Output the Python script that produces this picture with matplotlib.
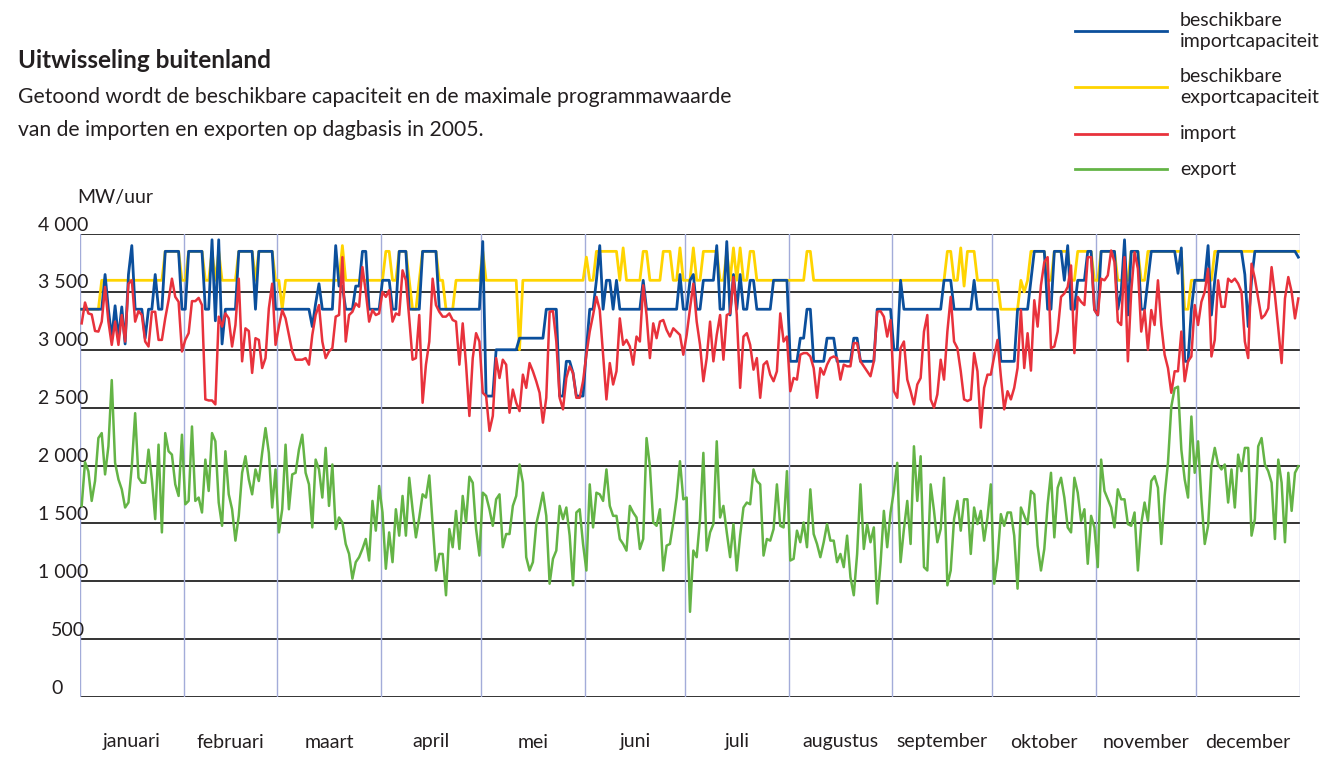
import matplotlib
matplotlib.use("Agg")
import matplotlib.pyplot as plt
import matplotlib.transforms as mtransforms
from matplotlib.lines import Line2D
import numpy as np

plt.rcParams['font.family'] = ['Lato', 'DejaVu Sans']

W, H = 1327, 758

months = ["januari", "februari", "maart", "april", "mei", "juni", "juli",
          "augustus", "september", "oktober", "november", "december"]
days_in_month = [31, 28, 31, 30, 31, 30, 31, 31, 30, 31, 30, 31]

y_ticks = [0, 500, 1000, 1500, 2000, 2500, 3000, 3500, 4000]
y_labels = ["0", "500", "1 000", "1 500", "2 000", "2 500", "3 000", "3 500", "4 000"]

# beschikbare importcapaciteit, (niveau, aantal dagen)
import_cap_runs = [
    (3350, 7), (3650, 1), (3350, 1), (3100, 1), (3380, 1), (3100, 1), (3370, 1), (3050, 1),
    (3650, 1), (3900, 1), (3350, 3), (3100, 1), (3350, 2), (3650, 1), (3350, 2), (3850, 5),
    (3350, 2), (3850, 5), (3350, 2), (3950, 1), (3250, 1), (3950, 1), (3050, 1), (3350, 4),
    (3850, 5), (3350, 1), (3850, 5), (3350, 11), (3200, 1), (3400, 1), (3570, 1), (3350, 4),
    (3900, 1), (3550, 2), (3350, 3), (3550, 2), (3850, 2), (3350, 4), (3600, 3), (3350, 2),
    (3850, 3), (3350, 4), (3850, 5), (3350, 13), (3935, 1), (2600, 3), (3000, 7), (3100, 8),
    (3350, 4), (2600, 2), (2900, 2), (2800, 1), (2600, 3), (3000, 1), (3350, 2), (3600, 1),
    (3900, 1), (3350, 1), (3600, 2), (3350, 1), (3600, 1), (3350, 7), (3600, 1), (3350, 10),
    (3650, 1), (3350, 2), (3600, 1), (3650, 1), (3350, 2), (3600, 4), (3900, 1), (3350, 2),
    (3935, 1), (3300, 1), (3650, 1), (3350, 1), (3650, 1), (3350, 2), (3600, 2), (3350, 5),
    (3600, 5), (2900, 3), (3100, 2), (3350, 2), (2900, 4), (3100, 3), (2900, 5), (3100, 2),
    (2900, 5), (3350, 5), (3000, 2), (3600, 1), (3350, 12), (3600, 3), (3350, 6), (3600, 1),
    (3350, 7), (2900, 5), (3350, 4), (3600, 1), (3850, 4), (3350, 2), (3850, 3), (3600, 1),
    (3900, 1), (3350, 2), (3600, 3), (3850, 2), (3350, 1), (3300, 1), (3850, 5), (3350, 1),
    (3500, 1), (3950, 1), (3300, 1), (3850, 3), (3350, 2), (3600, 1), (3850, 8), (3660, 1),
    (3880, 1), (2900, 2), (3350, 1), (3600, 4), (3900, 1), (3300, 1), (3600, 1), (3850, 8),
    (3650, 1), (3200, 1), (3600, 1), (3850, 13), (3800, 1),
]

# beschikbare exportcapaciteit, (niveau, aantal dagen)
export_cap_runs = [
    (3350, 6), (3600, 19), (3850, 5), (3600, 2), (3850, 5), (3600, 2), (3850, 1), (3600, 1),
    (3850, 1), (3600, 5), (3850, 5), (3600, 1), (3850, 5), (3600, 2), (3350, 1), (3600, 17),
    (3900, 1), (3600, 12), (3850, 2), (3600, 2), (3850, 3), (3600, 1), (3350, 2), (3600, 1),
    (3850, 5), (3600, 2), (3350, 3), (3600, 8), (3850, 1), (3600, 10), (3000, 1), (3600, 19),
    (3800, 1), (3600, 2), (3850, 7), (3600, 1), (3880, 1), (3600, 5), (3850, 2), (3600, 4),
    (3850, 3), (3600, 2), (3880, 1), (3600, 3), (3880, 1), (3600, 2), (3850, 5), (3600, 2),
    (3850, 1), (3600, 1), (3880, 1), (3600, 1), (3880, 1), (3600, 2), (3850, 2), (3600, 15),
    (3850, 2), (3600, 40), (3850, 2), (3600, 2), (3880, 1), (3550, 1), (3850, 3), (3600, 7),
    (3350, 6), (3600, 1), (3500, 1), (3600, 1), (3850, 5), (3600, 2), (3850, 5), (3600, 2),
    (3850, 5), (3600, 2), (3850, 5), (3600, 4), (3850, 3), (3600, 2), (3850, 11), (3350, 2),
    (3600, 7), (3850, 26),
]

# import, maximale programmawaarde per dag
import_mw = [
    3228, 3408, 3314, 3305, 3162, 3157, 3243, 3543, 3243, 3042, 3243, 3042, 3300, 3071, 3571, 3600,
    3243, 3334, 3300, 3071, 3028, 3328, 3328, 3085, 3085, 3271, 3428, 3614, 3457, 3414, 2985, 3085,
    3143, 3420, 3420, 3448, 3386, 2571, 2562, 2562, 2528, 3286, 3200, 3314, 3271, 3028, 3214, 3614,
    2900, 3185, 3162, 2800, 3100, 3085, 2842, 2928, 3357, 3571, 3042,
    3200, 3343, 3271, 3128, 2985, 2914, 2914, 2914, 2928, 2871, 3128, 3300, 3386, 3071, 2928, 2985,
    3014, 3286, 3300, 3800, 3071, 3300, 3328, 3400, 3371, 3714, 3500, 3243, 3343, 3300, 3314, 3500,
    3457, 3514, 3243, 3314, 3300, 3686, 3600, 3271, 2914, 2928, 3300, 2542, 2871, 3071, 3614, 3386,
    3328, 3286, 3286, 3314, 3257, 3243, 2871, 3228, 2871, 2428, 2928,
    3143, 3071, 2628, 2600, 2299, 2428, 2928, 2756, 2914, 2871, 2456, 2656, 2542, 2470, 2785, 2671,
    2885, 2814, 2728, 2628, 2370, 2585, 3328, 3334, 3071, 2585, 2485, 2756, 2857, 2800, 2585, 2585,
    2728, 2957, 3157, 3300, 3457, 3343, 2957, 2571, 2885, 2700, 2814, 3271, 3042, 3085, 3028, 2871,
    3114, 3071, 3557, 3300, 2928, 3228, 3100, 3243, 3257, 3171, 3114, 3185,
    3157, 3128, 2957, 3128, 3357, 3571, 3243, 3042, 2728, 2928, 3243, 2900, 3128, 3300, 2914, 3300,
    3314, 3628, 3300, 2671, 3114, 3143, 3042, 2828, 2928, 2585, 2871, 2900, 2785, 2728, 2814, 3314,
    3071, 3114, 2642, 2756, 2742, 2957, 2971, 2971, 2942, 2842, 2585, 2842, 2785, 2871, 2928, 2942,
    2928, 2742, 2871, 2857, 2857, 3057, 3057, 2900, 2857, 2814, 2771, 2900, 3328,
    3334, 3286, 3114, 3257, 2642, 2585, 3014, 3071, 2742, 2642, 2528, 2700, 2756, 3157, 3300, 2571,
    2500, 2614, 2914, 2742, 3157, 3457, 3071, 3014, 2814, 2571, 2557, 2571, 2971, 2814, 2327, 2671,
    2785, 2785, 2942, 3085, 2771, 2485, 2642, 2571, 2671, 2842, 3343, 2842, 3143, 2820, 3428, 3200,
    3557, 3757, 3800, 3014, 3028, 3157, 3457, 3486, 3543, 3728, 2971, 3457,
    3414, 3386, 3800, 3800, 3343, 3300, 3614, 3600, 3643, 3857, 3757, 3243, 3214, 3800, 2900, 3500,
    3843, 3700, 3157, 3343, 3000, 3343, 3214, 3600, 3214, 2957, 2842, 2628, 2814, 2814, 3157, 2728,
    2900, 2942, 3386, 3214, 3414, 3500, 3700, 2942, 3085, 3600, 3371, 3371, 3614, 3586, 3614, 3571,
    3500, 3071, 2928, 3743, 3614, 3443, 3271, 3300, 3357, 3714, 3471, 3185, 2885, 3443, 3628, 3500,
    3271, 3443,
]

# export, maximale programmawaarde per dag
export_mw = [
    1651, 2029, 1951, 1694, 1866, 2237, 2280, 1923, 2166, 2738, 2023, 1880, 1794, 1637, 1680, 1994,
    2452, 1894, 1851, 1851, 2137, 1880, 1537, 2180, 1422, 2280, 2123, 2094, 1837, 1737, 2266, 1665,
    1694, 2337, 1694, 1723, 1594, 2051, 1780, 2280, 2209, 1680, 1479, 2123, 1751, 1622, 1351, 1565,
    1937, 2080, 1880, 1751, 1966, 1866, 2109, 2323, 2109, 1637, 1966, 1422, 1622, 2180, 1622, 1923,
    1937, 2137, 2266, 1937, 1837, 1465, 2051, 1966, 1723, 2152, 1651, 2009, 1451, 1551, 1508, 1322,
    1236, 1022, 1165, 1208, 1279, 1365, 1179, 1694, 1437, 1823, 1594, 1108, 1422,
    1165, 1622, 1394, 1737, 1394, 1894, 1622, 1379, 1551, 1751, 1723, 1914, 1494, 1093, 1236, 1236,
    879, 1451, 1294, 1608, 1279, 1737, 1508, 1903, 1851, 1451, 1222, 1765, 1737, 1622, 1479, 1708,
    1751, 1294, 1408, 1408, 1651, 1737, 2009, 1851, 1208, 1093, 1165, 1494, 1622, 1765, 1565, 979,
    1194, 1265, 1651, 1537, 1637, 1394, 965, 1594, 1622, 1322, 1093, 1837, 1465, 1765, 1751, 1694,
    1966, 1651, 1565, 1565, 1365, 1322, 1265, 1651, 1594, 1551, 1279, 1365, 2237, 1994, 1508, 1479,
    1622, 1093, 1308, 1322, 1508, 1723,
    2037, 1708, 1723, 736, 1265, 1208, 1537, 2109, 1265, 1422, 1494, 2209, 1551, 1651, 1422, 1208,
    1494, 1093, 1394, 1637, 1680, 1665, 1966, 1866, 1837, 1222, 1365, 1351, 1451, 1837, 1479, 1465,
    1951, 1179, 1194, 1437, 1337, 1508, 1294, 1794, 1408, 1322, 1208, 1337, 1494, 1351, 1351, 1165,
    1236, 1122, 1394, 1036, 879, 1236, 1837, 1279, 1494, 1337, 1465, 807, 1151, 1608, 1294, 1594,
    1780, 2023, 1165, 1451, 1694, 1322, 2166, 1694, 2080, 1122, 1093, 1837, 1608, 1337, 1451, 1894,
    965, 1093, 1537, 1694, 1437, 1708, 1708, 1236, 1637, 1494, 1608, 1351, 1551,
    1837, 979, 1194, 1580, 1479, 1594, 1594, 1394, 936, 1637, 1565, 1494, 1780, 1751, 1308, 1093,
    1279, 1665, 1937, 1379, 1808, 1894, 1723, 1465, 1422, 1894, 1765, 1522, 1622, 1151, 1565, 1465,
    1122, 2051, 1780, 1708, 1637, 1465, 1794, 1708, 1708, 1494, 1479, 1594, 1093, 1494, 1680, 1522,
    1866, 1908, 1808, 1322, 1737, 2023, 2509, 2666, 2681, 2137, 1880, 1723, 2423, 1937, 2209, 1708,
    1322, 1479, 1994, 2152, 2009, 1966, 2009, 1680, 1966, 1637, 2094, 1951, 2152, 2152, 1394, 1537,
    2166, 2237, 2009, 1951, 1851, 1365, 2051, 1851, 1337, 1937, 1608, 1937, 1994,
]

legend_labels = ["beschikbare\nimportcapaciteit", "beschikbare\nexportcapaciteit", "import", "export"]

c_blue = "#0b4f9c"
c_yellow = "#ffd400"
c_red = "#e8323c"
c_green = "#64b446"
c_grid = "#333333"
c_month = "#a3acd9"
c_text = "#231f20"


def expand(runs):
    vals, counts = zip(*runs)
    return np.repeat(vals, counts)


imp_cap = expand(import_cap_runs)
exp_cap = expand(export_cap_runs)
imp = np.array(import_mw)
exp_ = np.array(export_mw)

fig = plt.figure(figsize=(W / 100, H / 100), dpi=100)
ax = fig.add_axes([80 / W, 1 - 697 / H, (1300 - 80) / W, (697 - 234) / H])

n_days = sum(days_in_month)
ax.set_xlim(-0.5, n_days - 0.5)
ax.set_ylim(0, 4000)

for v in y_ticks:
    ax.axhline(v, color=c_grid, lw=1.4, zorder=1)

bounds = np.concatenate([[0], np.cumsum(days_in_month)]) - 0.5
for b in bounds:
    ax.axvline(b, color=c_month, lw=1.0, zorder=1)

ax.plot(np.arange(len(exp_cap)), exp_cap, color=c_yellow, lw=2.0, zorder=3)
ax.plot(np.arange(len(imp_cap)), imp_cap, color=c_blue, lw=2.0, zorder=4)
ax.plot(np.arange(len(imp)), imp, color=c_red, lw=1.8, zorder=5)
ax.plot(np.arange(len(exp_)), exp_, color=c_green, lw=1.8, zorder=5)

ax.set_xticks([])
ax.set_yticks([])
for s in ax.spines.values():
    s.set_visible(False)

# y labels sit above their gridline
trans = mtransforms.blended_transform_factory(fig.transFigure, ax.transData)
for v, lbl in zip(y_ticks, y_labels):
    xpx = 38 if v >= 1000 else 51
    ax.annotate(lbl, xy=(xpx / W, v), xycoords=trans, xytext=(0, 2.5),
                textcoords="offset points", ha="left", va="baseline",
                fontsize=14, color=c_text, annotation_clip=False)

# month names centred under each month
mtrans = mtransforms.blended_transform_factory(ax.transData, fig.transFigure)
centers = (bounds[:-1] + bounds[1:]) / 2
for c, m in zip(centers, months):
    ax.annotate(m, xy=(c, 1 - 742 / H), xycoords=mtrans, ha="center", va="center",
                fontsize=14, color=c_text, annotation_clip=False)

fig.text(77 / W, 1 - 197 / H, "MW/uur", ha="left", va="center", fontsize=14, color=c_text)

fig.text(18 / W, 1 - 60 / H, "Uitwisseling buitenland", ha="left", va="center",
         fontsize=17.5, fontweight="bold", color=c_text)
fig.text(18 / W, 1 - 97 / H, "Getoond wordt de beschikbare capaciteit en de maximale programmawaarde",
         ha="left", va="center", fontsize=15.2, color=c_text)
fig.text(18 / W, 1 - 130 / H, "van de importen en exporten op dagbasis in 2005.",
         ha="left", va="center", fontsize=15.2, color=c_text)

# legend
leg_y = [31, 87, 134, 169]
leg_c = [c_blue, c_yellow, c_red, c_green]
for y, col, lbl in zip(leg_y, leg_c, legend_labels):
    fig.add_artist(Line2D([1075 / W, 1167 / W], [1 - y / H, 1 - y / H], color=col, lw=2.0))
    fig.text(1180 / W, 1 - y / H, lbl, ha="left", va="center", fontsize=14,
             color=c_text, linespacing=1.25)

fig.savefig("out.png", dpi=100)
